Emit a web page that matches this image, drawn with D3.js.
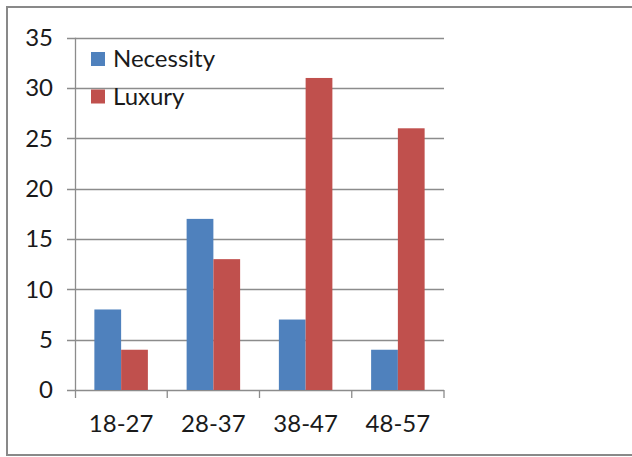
<!DOCTYPE html>
<html><head><meta charset="utf-8">
<script src="https://cdn.jsdelivr.net/npm/d3@7"></script>
<style>body{margin:0;background:#fff}svg{display:block}text{font-family:Lato,"Open Sans",sans-serif;fill:#1a1a1a}</style>
</head><body><div id="chart"></div>
<script>
const categories = ["18-27","28-37","38-47","48-57"];
const seriesNames = ["Necessity","Luxury"];
const necessity = [8,17,7,4];
const luxury = [4,13,31,26];
const yTicks = [0,5,10,15,20,25,30,35];
const colors = ["#4F81BD","#C0504D"];

const W=632,H=457;
const svg=d3.select("#chart").append("svg").attr("width",W).attr("height",H);
svg.append("rect").attr("x",7).attr("y",7).attr("width",W+10).attr("height",448)
  .attr("fill","#fff").attr("stroke","#898989").attr("stroke-width",2);

const x0=75,x1=444,yTop=37.7,yBot=390;
const y=d3.scaleLinear().domain([0,35]).range([yBot,yTop]);
const xb=d3.scaleBand().domain(categories).range([x0,x1]).paddingInner(0.42).paddingOuter(0.21);
const xs=d3.scaleBand().domain(seriesNames).range([0,xb.bandwidth()]);

// gridlines
svg.append("g").selectAll("line").data(yTicks).join("line")
  .attr("x1",x0-8).attr("x2",x1).attr("y1",d=>Math.round(y(d))+0.5).attr("y2",d=>Math.round(y(d))+0.5)
  .attr("stroke","#8c8c8c").attr("stroke-width",1.3);

const data=[necessity,luxury];
const g=svg.append("g");
seriesNames.forEach((s,si)=>{
  g.selectAll(null).data(categories).join("rect")
    .attr("x",c=>xb(c)+xs(s)).attr("width",xs.bandwidth())
    .attr("y",(c,i)=>y(data[si][i])).attr("height",(c,i)=>yBot-y(data[si][i]))
    .attr("fill",colors[si]);
});

// y axis line
svg.append("line").attr("x1",x0+0.5).attr("x2",x0+0.5).attr("y1",yTop).attr("y2",yBot)
  .attr("stroke","#8c8c8c").attr("stroke-width",1.3);
// x axis ticks
svg.append("g").selectAll("line").data(categories.map((c,i)=>i)).join("line")
  .attr("x1",i=>x0+(x1-x0)*(i+1)/categories.length).attr("x2",i=>x0+(x1-x0)*(i+1)/categories.length)
  .attr("y1",yBot).attr("y2",yBot+8).attr("stroke","#8c8c8c").attr("stroke-width",1.3);
svg.append("line").attr("x1",x0+0.5).attr("x2",x0+0.5).attr("y1",yBot).attr("y2",yBot+8)
  .attr("stroke","#8c8c8c").attr("stroke-width",1.3);

// y labels
svg.append("g").selectAll("text").data(yTicks).join("text")
  .attr("x",53).attr("y",d=>y(d)).attr("dy","0.35em").attr("text-anchor","end")
  .attr("font-size",24).text(d=>d);
// x labels
svg.append("g").selectAll("text").data(categories).join("text")
  .attr("x",c=>xb(c)+xb.bandwidth()/2).attr("y",432).attr("text-anchor","middle")
  .attr("font-size",24).text(c=>c);

// legend
const lg=svg.append("g");
seriesNames.forEach((s,i)=>{
  lg.append("rect").attr("x",91).attr("y",52+i*37.5).attr("width",14).attr("height",14).attr("fill",colors[i]);
  lg.append("text").attr("x",113).attr("y",59+i*37.5).attr("dy","0.35em").attr("font-size",24).text(s);
});
</script></body></html>
